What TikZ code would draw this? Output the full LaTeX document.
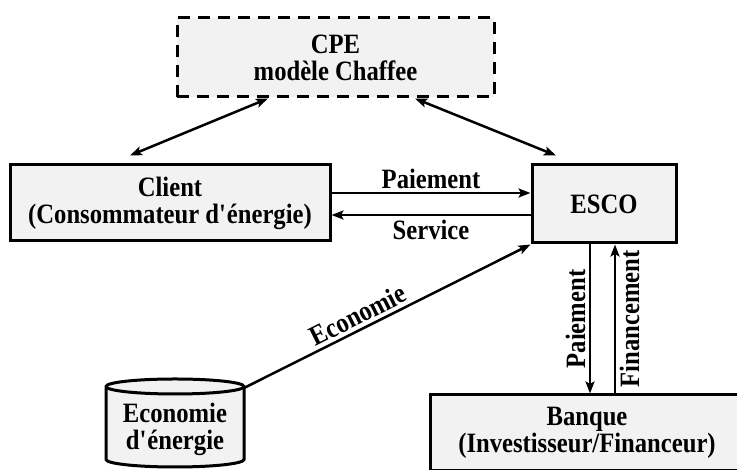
\documentclass[tikz,border=0pt]{standalone}
\usepackage{fontspec}
\setmainfont{Liberation Serif}[FakeStretch=0.88]
\usepackage{tikz}
\usetikzlibrary{calc,arrows.meta}
\definecolor{boxgray}{HTML}{F2F2F2}
\tikzset{
	box/.style={draw,fill=boxgray,line width=3pt,inner sep=0pt,align=center},
	cpebox/.style={box,dash pattern=on 12pt off 8pt},
	fleche/.style={line width=2.5pt},
}

\begin{document}
\begin{tikzpicture}[x=1pt,y=1pt,>={Stealth[length=12pt,width=9pt,inset=2.5pt]},font=\bfseries\fontsize{28}{27}\selectfont]
	\clip (0,0) rectangle (737,470);
	% skatle
	\node[cpebox,minimum width=317pt,minimum height=79pt] (cpe) at (335.5,412.5) {CPE\\modèle Chaffee};
	\node[box,minimum width=320pt,minimum height=76pt] (client) at (170,267) {Client\\(Consommateur d\textquotesingle énergie)};
	\node[box,minimum width=144pt,minimum height=78pt] (esco) at (604,266) {ESCO};
	\node[box,minimum width=314pt,minimum height=76pt] (banque) at (587,37) {Banque\\(Investisseur/Financeur)};
	% valj
	\filldraw[box] (106,83.5) -- (106,10.5) arc[start angle=180,end angle=360,x radius=69,y radius=7.5]
		-- (244,83.5) arc[start angle=0,end angle=180,x radius=69,y radius=7.5] -- cycle;
	\draw[box] (106,83.5) arc[start angle=180,end angle=360,x radius=69,y radius=7.5];
	\coordinate (ecotop) at (244,82);
	\node[align=center] (eco) at (175,41) {Economie\\d\textquotesingle énergie};
	
	\draw[fleche,<->] ($(cpe.south)+(-67.5,0)$)--($(client.north)+(-40,8)$);
	\draw[fleche,<->] ($(cpe.south)+(79.5,0)$)--($(esco.north)+(-48,8)$);
	\draw[fleche,->] ([yshift=10pt]client.east)--([yshift=10pt]client.east -| esco.west) node[midway,above]{Paiement};
	\draw[fleche,->] ([yshift=-12pt]client.east -| esco.west)--([yshift=-12pt]client.east) node[midway,below]{Service};
	\draw[fleche,->] (ecotop)--(esco.south west) node[pos=0.42,sloped,above]{Economie};
	\draw[fleche,->] ([xshift=-14pt]esco.south)--([xshift=-14pt]esco.south |- banque.north) node[midway,rotate=90,anchor=south]{Paiement};
	\draw[fleche,->] ([xshift=11pt]esco.south |- banque.north)--([xshift=11pt]esco.south) node[midway,rotate=90,anchor=north]{Financement};
\end{tikzpicture}
\end{document}
